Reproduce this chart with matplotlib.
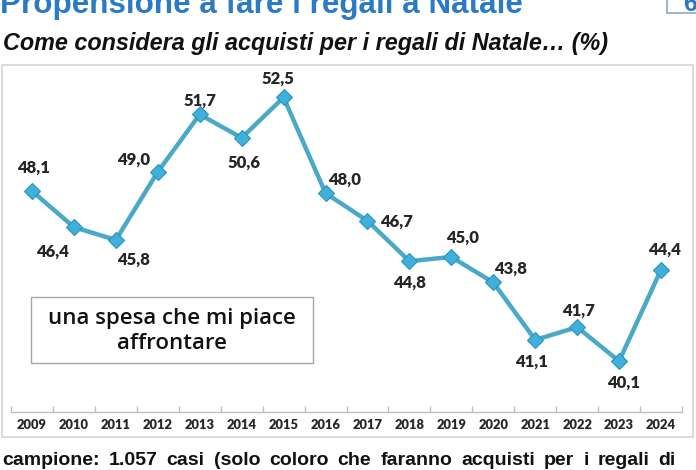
import matplotlib
matplotlib.use("Agg")
import matplotlib.pyplot as plt
from matplotlib.patches import Rectangle

# ---- data ----
years = ["2009", "2010", "2011", "2012", "2013", "2014", "2015", "2016",
         "2017", "2018", "2019", "2020", "2021", "2022", "2023", "2024"]
values = [48.1, 46.4, 45.8, 49.0, 51.7, 50.6, 52.5, 48.0,
          46.7, 44.8, 45.0, 43.8, 41.1, 41.7, 40.1, 44.4]
title = "Propensione a fare i regali a Natale"
subtitle = "Come considera gli acquisti per i regali di Natale\u2026 (%)"
box_label = "una spesa che mi piace\naffrontare"
footer = "campione: 1.057 casi (solo coloro che faranno acquisti per i regali di"
page_no = "6"

# ---- layout (pixels) ----
W, H = 696, 470
label_offsets = [(2, 23), (-21, -25), (18, -20), (-24, 12), (0, 14), (2, -25),
                 (-6, 19), (19, 13), (29, -1), (0, -21), (11, 19), (17, 14),
                 (-4, -22), (1, 16), (4, -22), (3, 20)]

fig = plt.figure(figsize=(W / 100, H / 100), dpi=100)
fig.patch.set_facecolor("white")


def fx(x):
    return x / W


def fy(y):
    return 1 - y / H


renderer = fig.canvas.get_renderer()


def fit(t, target_w):
    bb = t.get_window_extent(renderer=renderer)
    t.set_fontsize(t.get_fontsize() * target_w / bb.width)


# frame around chart
fig.patches.append(Rectangle((fx(2), fy(437)), fx(693) - fx(2), fy(65) - fy(437),
                             transform=fig.transFigure, fill=False,
                             edgecolor="#d4d4d4", linewidth=1.2))

# axes
ax_left, ax_right, ax_top, ax_bottom = 11, 682, 70, 412
ax = fig.add_axes([fx(ax_left), fy(ax_bottom), fx(ax_right) - fx(ax_left),
                   fy(ax_top) - fy(ax_bottom)])
ax.set_facecolor("none")
x = list(range(len(years)))
ax.plot(x, values, color="#4aa9c7", linewidth=3.2, zorder=2,
        marker="D", markersize=8.5, markerfacecolor="#3fb0dc",
        markeredgecolor="#2a93bd", markeredgewidth=0.8)
ax.set_xlim(-0.5, len(years) - 0.5)
ax.set_ylim(37.71, 53.79)
for s in ["top", "right", "left"]:
    ax.spines[s].set_visible(False)
ax.spines["bottom"].set_color("#bfbfbf")
ax.spines["bottom"].set_linewidth(1.0)
ax.set_yticks([])
ax.set_xticks([i - 0.5 for i in range(len(years) + 1)])
ax.set_xticklabels([])
ax.tick_params(axis="x", which="major", direction="in", length=4,
               color="#bfbfbf", width=1.0)
ax.set_xticks(x, minor=True)
ax.set_xticklabels(years, minor=True, fontfamily="Lato", fontweight="heavy",
                   fontsize=9.3, color="#262626")
ax.tick_params(axis="x", which="minor", length=0, pad=5)

for xi, v, (dx, dy) in zip(x, values, label_offsets):
    ax.annotate(f"{v:.1f}".replace(".", ","), (xi, v), xytext=(dx, dy),
                textcoords="offset pixels", ha="center", va="center",
                fontfamily="Lato", fontweight="heavy", fontsize=12,
                color="#262626")

# label box
fig.patches.append(Rectangle((fx(31), fy(363)), fx(313) - fx(31), fy(297) - fy(363),
                             transform=fig.transFigure, fill=True,
                             facecolor="white", edgecolor="#a6a6a6", linewidth=1.0))
bt = fig.text(fx(172), fy(331), box_label, ha="center", va="center",
              fontfamily="Open Sans", fontweight="semibold", fontsize=15,
              color="#111111", linespacing=1.25)
first = fig.text(0, 0, box_label.split("\n")[0], fontfamily="Open Sans",
                 fontweight="semibold", fontsize=15)
scale = 248 / first.get_window_extent(renderer=renderer).width
first.remove()
bt.set_fontsize(15 * scale)

# title (cut at top, as in the reference)
tt = fig.text(fx(0), fy(13), title, ha="left", va="baseline",
              fontfamily="Liberation Sans", fontweight="bold", fontsize=20,
              color="#2a7ac6")
fit(tt, 520)

# page number box
fig.patches.append(Rectangle((fx(667), fy(13)), fx(720) - fx(667), fy(-20) - fy(13),
                             transform=fig.transFigure, facecolor="white",
                             edgecolor="#8fa8c4", linewidth=1.2))
fig.text(fx(683), fy(11), page_no, ha="left", va="baseline",
         fontfamily="Liberation Sans", fontweight="bold", fontsize=18,
         color="#2a7ac6")

# subtitle
st = fig.text(fx(3), fy(50), subtitle, ha="left", va="baseline",
              fontfamily="Liberation Sans", fontweight="bold", style="italic",
              fontsize=15, color="#111111")
fit(st, 607)

# footer, justified
words = footer.split(" ")
objs = [fig.text(0, fy(465), w, ha="left", va="baseline",
                 fontfamily="Liberation Sans", fontweight="bold", fontsize=14,
                 color="#111111") for w in words]
widths = [o.get_window_extent(renderer=renderer).width for o in objs]
x0, x1 = 2, 676
gap = (x1 - x0 - sum(widths)) / (len(words) - 1)
cur = x0
for o, w in zip(objs, widths):
    o.set_x(fx(cur))
    cur += w + gap

fig.savefig("out.png", dpi=100, facecolor="white")
